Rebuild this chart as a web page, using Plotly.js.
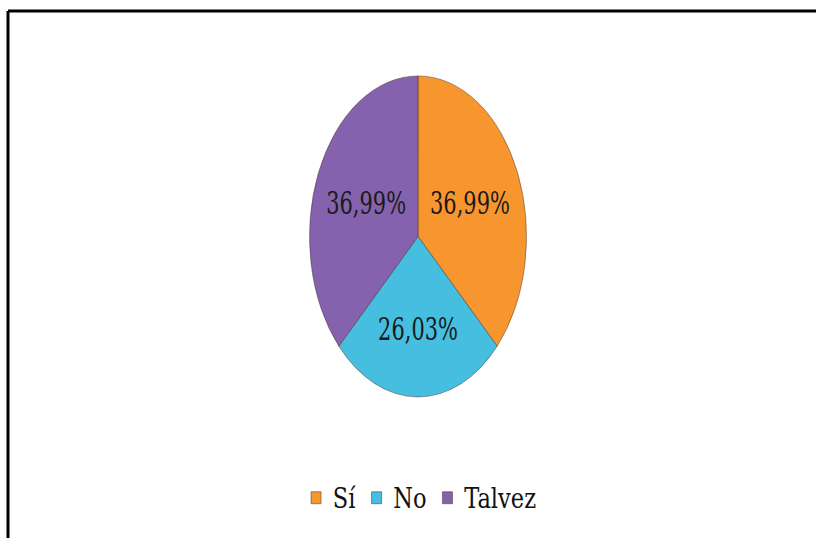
<!DOCTYPE html>
<html>
<head>
<meta charset="utf-8">
<script src="https://cdn.plot.ly/plotly-3.0.1.min.js"></script>
<style>
  html, body { margin: 0; padding: 0; background: #ffffff; overflow: hidden; }
  #chart { width: 816px; height: 538px; }
</style>
</head>
<body>
<div id="chart"></div>
<script>
// Data
const categories = ["Sí", "No", "Talvez"];
const percentages = [36.99, 26.03, 36.99];
const sliceColors = ["#F7952F", "#45BEDF", "#8462AD"];

const serif = "DejaVu Serif";

const trace = {
  type: "pie",
  labels: categories,
  values: percentages,
  sort: false,
  direction: "clockwise",
  rotation: 0,
  marker: { colors: sliceColors, line: { color: "rgba(70,45,40,0.55)", width: 1 } },
  texttemplate: "%{value:.2f}%",
  textposition: "inside",
  insidetextorientation: "horizontal",
  textfont: { family: serif, size: 31, color: "#1a1a1a" },
  hoverinfo: "skip",
  domain: { x: [0.3156, 0.7090], y: [0.262, 0.859] }
};

const layout = {
  width: 816,
  height: 538,
  margin: { l: 0, r: 0, t: 0, b: 0 },
  paper_bgcolor: "#ffffff",
  plot_bgcolor: "#ffffff",
  separators: ",.",
  showlegend: true,
  legend: {
    orientation: "h",
    x: 0.512, xanchor: "center",
    y: 0.074, yanchor: "middle",
    itemwidth: 30,
    font: { family: serif, size: 27, color: "#111111" },
    itemclick: false, itemdoubleclick: false
  },
  shapes: [
    { type: "line", xref: "paper", yref: "paper", x0: 0.0098, x1: 1.01, y0: 0.9796, y1: 0.9796, line: { color: "#000000", width: 3 } },
    { type: "line", xref: "paper", yref: "paper", x0: 0.0098, x1: 0.0098, y0: -0.01, y1: 0.9796, line: { color: "#000000", width: 3 } }
  ]
};

Plotly.newPlot("chart", [trace], layout, { displayModeBar: false, staticPlot: true }).then(function (gd) {
  // the reference pie is drawn as a vertical ellipse: compress the pie layer horizontally
  const cx = 418;
  const k = 0.676;
  const layer = gd.querySelector(".pielayer");
  if (layer) {
    layer.setAttribute("transform", "translate(" + cx + ",0) scale(" + k + ",1) translate(" + (-cx) + ",0)");
  }
  // the reference legend text is horizontally condensed as well
  const leg = gd.querySelector("g.legend");
  if (leg) {
    const kl = 0.835;
    const legCx = 420;
    const tr = leg.getAttribute("transform") || "";
    const m = /translate\(\s*([-\d.]+)[ ,]+([-\d.]+)\s*\)/.exec(tr);
    const ty = m ? parseFloat(m[2]) : 0;
    const w = leg.getBBox().width;
    leg.setAttribute("transform", "translate(" + (legCx - w * kl / 2) + "," + ty + ") scale(" + kl + ",1)");
  }
});
</script>
</body>
</html>
